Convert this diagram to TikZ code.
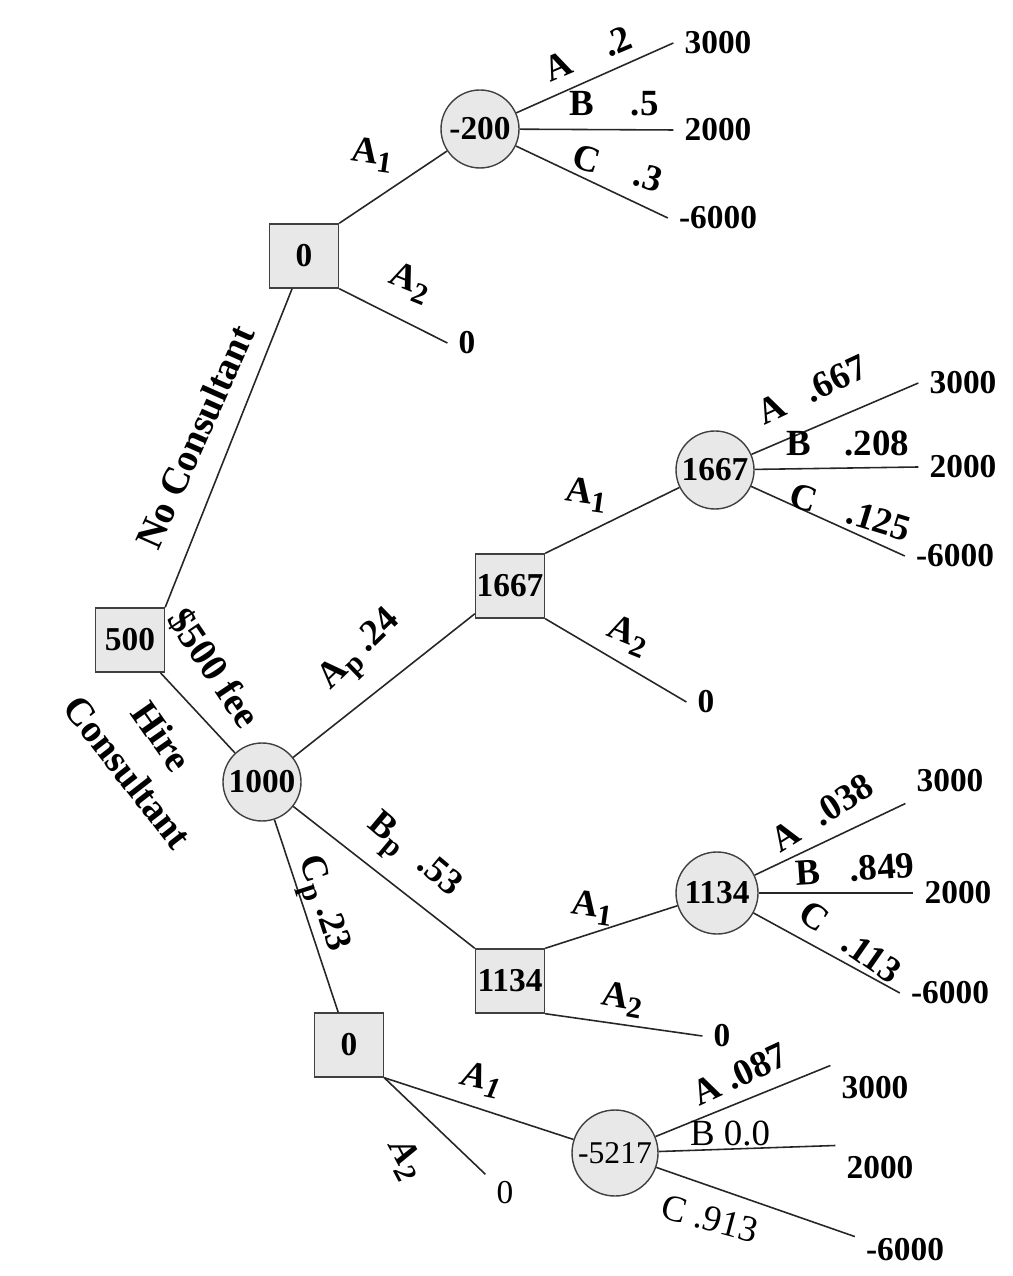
\documentclass[tikz,border=0pt]{standalone}
\usepackage{fontspec}
\setmainfont{Liberation Serif}
\newcommand{\lowsub}[1]{\raisebox{-0.45ex}{\fontsize{8.5}{9}\selectfont #1}}

\begin{document}
\begin{tikzpicture}[x=0.1mm,y=-0.1mm,
  dec/.style={draw=black!75,fill=black!9,minimum width=6.9mm,minimum height=6.4mm,inner sep=0pt,font=\bfseries\fontsize{9.5}{10}\selectfont},
  chn/.style={draw=black!75,fill=black!9,circle,minimum size=7.8mm,inner sep=0pt,font=\bfseries\fontsize{9.5}{10}\selectfont},
  pay/.style={inner sep=3pt,font=\bfseries\fontsize{9.5}{10}\selectfont},
  lbl/.style={inner sep=0pt,font=\bfseries\fontsize{10.5}{12}\selectfont},
  br/.style={draw=black!85,line width=0.45pt}]
\useasboundingbox (0,0) rectangle (1012,1276);

\node[dec] (root) at (130,640) {500};
\node[chn] (hire) at (262,782) {1000};

\node[dec] (dNo) at (304,256) {0};
\node[chn] (cNo) at (480,129) {-200};
\node[pay] (tNoA) at (718,43) {3000};
\node[pay] (tNoB) at (718,130) {2000};
\node[pay] (tNoC) at (718,218) {-6000};
\node[pay] (zNo) at (467,343) {0};

\node[dec] (dA) at (510,586) {1667};
\node[chn] (cA) at (715,470) {1667};
\node[pay] (tAA) at (963,383) {3000};
\node[pay] (tAB) at (963,467) {2000};
\node[pay] (tAC) at (955,556) {-6000};
\node[pay] (zA) at (706,702) {0};

\node[dec] (dB) at (510,981) {1134};
\node[chn,minimum size=8.2mm] (cB) at (717,893) {1134};
\node[pay] (tBA) at (950,781) {3000};
\node[pay] (tBB) at (958,893) {2000};
\node[pay] (tBC) at (950,993) {-6000};
\node[pay] (zB) at (722,1036) {0};

\node[dec] (dC) at (349,1045) {0};
\node[chn,minimum size=8.6mm,font=\fontsize{9}{10}\selectfont] (cC) at (615,1153) {-5217};
\node[pay] (tCA) at (875,1088) {3000};
\node[pay] (tCB) at (880,1168) {2000};
\node[pay] (tCC) at (905,1250) {-6000};
\node[pay,font=\fontsize{9.5}{10}\selectfont] (zC) at (505,1193) {0};

\draw[br] (root.north east) -- (dNo.250);
\draw[br] (root) -- (hire);
\draw[br] (dNo.north east) -- (cNo);
\draw[br] (dNo.south east) -- (zNo.west);
\draw[br] (cNo) -- (tNoA.west);
\draw[br] (cNo) -- (tNoB.west);
\draw[br] (cNo) -- (tNoC.west);

\draw[br] (hire) -- (dA);
\draw[br] (hire) -- (dB.north west);
\draw[br] (hire) -- (dC);

\draw[br] (dA.north east) -- (cA);
\draw[br] (dA.south east) -- (zA.west);
\draw[br] (cA) -- (tAA.west);
\draw[br] (cA) -- (tAB.west);
\draw[br] (cA) -- (tAC.west);

\draw[br] (dB.north east) -- (cB);
\draw[br] (dB.south east) -- (zB.west);
\draw[br] (cB) -- (tBA.south west);
\draw[br] (cB) -- (tBB.west);
\draw[br] (cB) -- (tBC.west);

\draw[br] (dC.south east) -- (cC);
\draw[br] (dC.south east) -- (zC);
\draw[br] (cC) -- (tCA.north west);
\draw[br] (cC) -- (tCB.north west);
\draw[br] (cC) -- (tCC.165);

\node[lbl,font=\bfseries\fontsize{11}{12}\selectfont,rotate=66] (lNo) at (195,437) {No Consultant};
\node[lbl,font=\bfseries\fontsize{11}{12}\selectfont,rotate=-56] (lFee) at (214,668) {\$500 fee};
\node[lbl,font=\bfseries\fontsize{11}{12}\selectfont,rotate=-55] (lHire) at (162,736) {Hire};
\node[lbl,font=\bfseries\fontsize{11}{12}\selectfont,rotate=-52] (lCons) at (128,772) {Consultant};

\node[lbl,rotate=-8] (lNo1) at (372,155) {A\lowsub{1}};
\node[lbl,rotate=-22] (lNo2) at (410,283) {A\lowsub{2}};
\node[lbl,rotate=23] (lNoA) at (588,54) {A\hspace{1em}.2};
\node[lbl] (lNoB) at (614,104) {B\hspace{1em}.5};
\node[lbl,rotate=-17] (lNoC) at (618,168) {C\hspace{1em}.3};

\node[lbl,rotate=44] (lAp) at (362,652) {A\lowsub{p} .24};
\node[lbl,rotate=-40] (lBp) at (412,858) {B\lowsub{p}\hspace{0.6em}.53};
\node[lbl,rotate=-72] (lCp) at (320,905) {C\lowsub{p} .23};

\node[lbl,rotate=-8] (lA1) at (586,495) {A\lowsub{1}};
\node[lbl,rotate=-22] (lA2) at (628,636) {A\lowsub{2}};
\node[lbl,rotate=25] (lAA) at (812,390) {A\hspace{0.7em}.667};
\node[lbl] (lAB) at (848,443) {B\hspace{0.9em}.208};
\node[lbl,rotate=-17] (lAC) at (850,512) {C\hspace{0.9em}.125};

\node[lbl,rotate=-8] (lB1) at (592,908) {A\lowsub{1}};
\node[lbl,rotate=-10] (lB2) at (622,1000) {A\lowsub{2}};
\node[lbl,rotate=32] (lBA) at (822,813) {A\hspace{0.6em}.038};
\node[lbl,rotate=4] (lBB) at (855,869) {B\hspace{0.8em}.849};
\node[lbl,rotate=-35] (lBC) at (850,942) {C\hspace{0.7em}.113};

\node[lbl,font=\bfseries\itshape\fontsize{10.5}{12}\selectfont,rotate=-12] (lC1) at (482,1080) {A\lowsub{1}};
\node[lbl,font=\bfseries\itshape\fontsize{10.5}{12}\selectfont,rotate=-62] (lC2) at (405,1160) {A\lowsub{2}};
\node[lbl,rotate=25] (lCA) at (740,1074) {A .087};
\node[lbl,font=\fontsize{10.5}{12}\selectfont] (lCB) at (730,1133) {B 0.0};
\node[lbl,font=\fontsize{10.5}{12}\selectfont,rotate=-15] (lCC) at (710,1219) {C .913};
\end{tikzpicture}
\end{document}
